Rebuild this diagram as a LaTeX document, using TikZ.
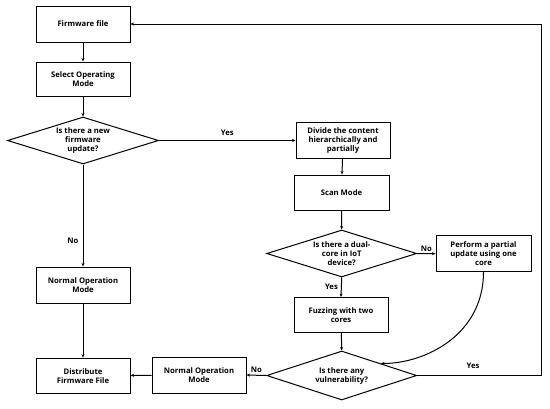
\documentclass[tikz,border=0pt]{standalone}
\usepackage{fontspec}
\setmainfont{Open Sans}
\usetikzlibrary{shapes.geometric,arrows.meta,calc}
\begin{document}
\begin{tikzpicture}[x=1pt,y=-1pt,
  every node/.style={font=\fontsize{7.7}{9}\selectfont\bfseries},
  box/.style={draw,line width=1pt,minimum width=94pt,minimum height=35pt,align=center,inner sep=1pt},
  dec/.style={draw,diamond,line width=1pt,minimum width=150pt,minimum height=47pt,align=center,inner sep=0pt,aspect=3.2},
  arr/.style={line width=1pt,-{Stealth[length=3.5pt,width=3pt]}},
  lbl/.style={inner sep=1pt}]
\useasboundingbox (0,0) rectangle (550,408);
\node[box,minimum height=36pt] (fw) at (83,24) {Firmware file};
\node[box,minimum height=34pt] (sel) at (83,79) {Select Operating\\Mode};
\node[dec,minimum width=151pt] (d1) at (83,140.5) {Is there a new\\firmware\\update?};
\node[box,minimum height=36pt] (div) at (343,140.5) {Divide the content\\hierarchically and\\partially};
\node[box,minimum width=95pt] (scan) at (341.5,192.5) {Scan Mode};
\node[dec] (d2) at (341.7,253.5) {Is there a dual-\\core in IoT\\device?};
\node[box,minimum width=95pt,minimum height=36pt] (perf) at (483.5,253.7) {Perform a partial\\update using one\\core};
\node[box] (fuzz) at (341,315) {Fuzzing with two\\cores};
\node[dec,minimum height=49pt] (d3) at (341.7,375.5) {Is there any\\vulnerability?};
\node[box,minimum height=36pt] (nom1) at (83,285) {Normal Operation\\Mode};
\node[box] (dist) at (83,375.7) {Distribute\\Firmware File};
\node[box,minimum height=36pt] (nom2) at (199,375) {Normal Operation\\Mode};
\coordinate (cr) at (541,375.5);
\coordinate (ct) at (541,24);
\coordinate (tgt) at ($(d3.north)!0.52!(d3.east)$);

\draw[arr] (fw) -- (sel);
\draw[arr] (sel) -- (d1);
\draw[arr] (d1.east) -- (div.west) node[lbl,pos=0.5,above=3pt] {Yes};
\draw[arr] (d1.south) -- (nom1.north) node[lbl,pos=0.75,left=3pt] {No};
\draw[arr] (nom1) -- (dist);
\draw[arr] (div) -- (scan);
\draw[arr] (scan) -- (d2.north);
\draw[arr] (d2.east) -- (perf.west) node[lbl,midway,above=1pt] {No};
\draw[arr] (d2.south) -- (fuzz.north) node[lbl,midway,left=2pt] {Yes};
\draw[arr] (fuzz) -- (d3.north);
\draw[arr] (perf.south) .. controls ($(perf.south)+(0,62)$) and ($(tgt)+(45,0)$) .. (tgt);
\draw[arr] (d3.west) -- (nom2.east) node[lbl,midway,above=1pt] {No};
\draw[arr] (nom2) -- (dist);
\draw[arr] (d3.east) -- (cr) -- (ct) -- (fw.east);
\node[lbl] (yes3) at (473,366) {Yes};
\end{tikzpicture}
\end{document}
